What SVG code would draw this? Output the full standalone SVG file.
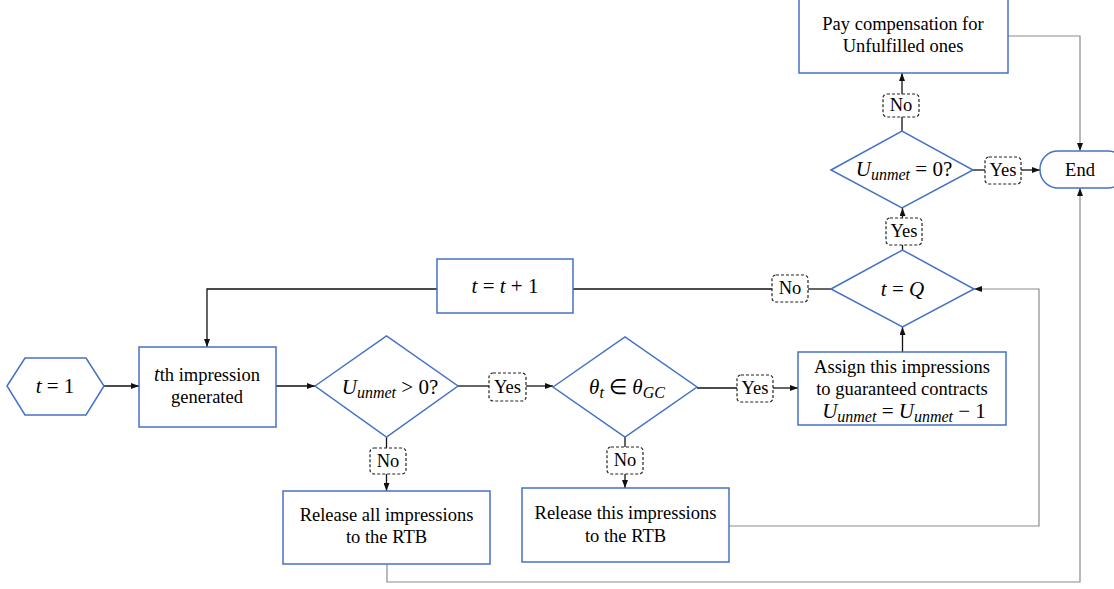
<svg xmlns="http://www.w3.org/2000/svg" width="1114" height="589" viewBox="0 0 1114 589">
<style>
.node{fill:#fff;stroke:#4472C4;stroke-width:1.5}
.lbl{fill:#fff;stroke:#222;stroke-width:1.2;stroke-dasharray:3 2}
.c{fill:none;stroke:#111;stroke-width:1.3}
.g{fill:none;stroke:#8c8c8c;stroke-width:1.2}
.t{font-family:"Liberation Serif",serif;font-size:18.5px;fill:#000;text-anchor:middle}
.m{font-family:"Liberation Serif",serif;font-size:21px;fill:#000;text-anchor:middle}
.i{font-style:italic}
.s{font-style:italic;font-size:16px}
</style>
<defs>
<marker id="ah" viewBox="0 0 8 6" refX="8" refY="3" markerWidth="8" markerHeight="6" markerUnits="userSpaceOnUse" orient="auto">
<path d="M0,0 L8,3 L0,6 z" fill="#111"/>
</marker>
</defs>
<g id="connectors">
<path class="c" d="M104,386 H139" marker-end="url(#ah)"/>
<path class="c" d="M276,386 H315" marker-end="url(#ah)"/>
<path class="c" d="M458,386 H489"/>
<path class="c" d="M526,386 H553" marker-end="url(#ah)"/>
<path class="c" d="M697,388 H737"/>
<path class="c" d="M773,388 H798" marker-end="url(#ah)"/>
<path class="c" d="M386.5,437 V448"/>
<path class="c" d="M386.5,474 V491" marker-end="url(#ah)"/>
<path class="c" d="M625,437 V447"/>
<path class="c" d="M625,474 V488" marker-end="url(#ah)"/>
<path class="c" d="M902.5,352 V327" marker-end="url(#ah)"/>
<path class="c" d="M902.5,250 V245"/>
<path class="c" d="M902.5,218 V208" marker-end="url(#ah)"/>
<path class="c" d="M902,131 V117"/>
<path class="c" d="M902,94 V73" marker-end="url(#ah)"/>
<path class="c" d="M973,170 H985"/>
<path class="c" d="M1021,170 H1040" marker-end="url(#ah)"/>
<path class="c" d="M831,289 H808"/>
<path class="c" d="M772,289 H573"/>
<path class="c" d="M437,289 H207 V347" marker-end="url(#ah)"/>
<path class="g" d="M1008,36 H1080 V151" marker-end="url(#ah)"/>
<path class="g" d="M729,526 H1039 V289 H974" marker-end="url(#ah)"/>
<path class="g" d="M387,564 V582 H1080 V188" marker-end="url(#ah)"/>
</g>
<g id="start">
<polygon class="node" points="7,386 25,358 86,358 104,386 86,415 25,415"/>
<text class="m" x="55" y="393"><tspan class="i">t</tspan> = 1</text>
</g>
<g id="generate">
<rect class="node" x="139" y="347" width="137" height="80"/>
<text class="t" x="207" y="381"><tspan class="i" font-size="20">t</tspan>th impression</text>
<text class="t" x="207" y="403">generated</text>
</g>
<g id="check-unmet">
<polygon class="node" points="315,386 386.5,336 458,386 386.5,437"/>
<text class="m" x="390" y="394"><tspan class="i">U</tspan><tspan class="s" dy="4">unmet</tspan><tspan dy="-4"> &gt; 0?</tspan></text>
</g>
<g id="check-theta">
<polygon class="node" points="553,387 625,337 697,387 625,437"/>
<text class="m" x="627" y="394"><tspan class="i">θ</tspan><tspan class="s" dy="4">t</tspan><tspan dy="-4"> ∈ </tspan><tspan class="i">θ</tspan><tspan class="s" dy="4">GC</tspan></text>
</g>
<g id="assign">
<rect class="node" x="798" y="352" width="208" height="73"/>
<text class="t" x="902" y="373">Assign this impressions</text>
<text class="t" x="902" y="395">to guaranteed contracts</text>
<text class="m" x="904" y="418"><tspan class="i">U</tspan><tspan class="s" dy="4">unmet</tspan><tspan dy="-4"> = </tspan><tspan class="i">U</tspan><tspan class="s" dy="4">unmet</tspan><tspan dy="-4"> − 1</tspan></text>
</g>
<g id="release-all">
<rect class="node" x="283" y="491" width="207" height="73"/>
<text class="t" x="386.5" y="521">Release all impressions</text>
<text class="t" x="386.5" y="543">to the RTB</text>
</g>
<g id="release-this">
<rect class="node" x="522" y="488" width="207" height="74"/>
<text class="t" x="625.5" y="519">Release this impressions</text>
<text class="t" x="625.5" y="542">to the RTB</text>
</g>
<g id="check-q">
<polygon class="node" points="831,289 902.5,250 974,289 902.5,327"/>
<text class="m" x="902.5" y="296"><tspan class="i">t</tspan> = <tspan class="i">Q</tspan></text>
</g>
<g id="increment">
<rect class="node" x="437" y="259" width="136" height="54"/>
<text class="m" x="505" y="293"><tspan class="i">t</tspan> = <tspan class="i">t</tspan> + 1</text>
</g>
<g id="check-zero">
<polygon class="node" points="831,170 902,131 973,170 902,208"/>
<text class="m" x="904" y="176"><tspan class="i">U</tspan><tspan class="s" dy="4">unmet</tspan><tspan dy="-4"> = 0?</tspan></text>
</g>
<g id="compensation">
<rect class="node" x="799" y="-1" width="209" height="74"/>
<text class="t" x="903" y="30">Pay compensation for</text>
<text class="t" x="903" y="52">Unfulfilled ones</text>
</g>
<g id="end">
<rect class="node" x="1040" y="151" width="86" height="37" rx="18" ry="18"/>
<text class="t" x="1080" y="176">End</text>
</g>
<g id="labels">
<rect class="lbl" x="489" y="373" width="37" height="28" rx="4"/>
<text class="t" x="507.5" y="393">Yes</text>
<rect class="lbl" x="737" y="375" width="36" height="27" rx="4"/>
<text class="t" x="755" y="394">Yes</text>
<rect class="lbl" x="370" y="448" width="36" height="26" rx="4"/>
<text class="t" x="388" y="467">No</text>
<rect class="lbl" x="607" y="447" width="36" height="27" rx="4"/>
<text class="t" x="625" y="466">No</text>
<rect class="lbl" x="772" y="275" width="36" height="27" rx="4"/>
<text class="t" x="790" y="294">No</text>
<rect class="lbl" x="886" y="218" width="36" height="27" rx="4"/>
<text class="t" x="904" y="237">Yes</text>
<rect class="lbl" x="883" y="94" width="36" height="23" rx="4"/>
<text class="t" x="901" y="111">No</text>
<rect class="lbl" x="985" y="157" width="36" height="27" rx="4"/>
<text class="t" x="1003" y="176">Yes</text>
</g>
</svg>
